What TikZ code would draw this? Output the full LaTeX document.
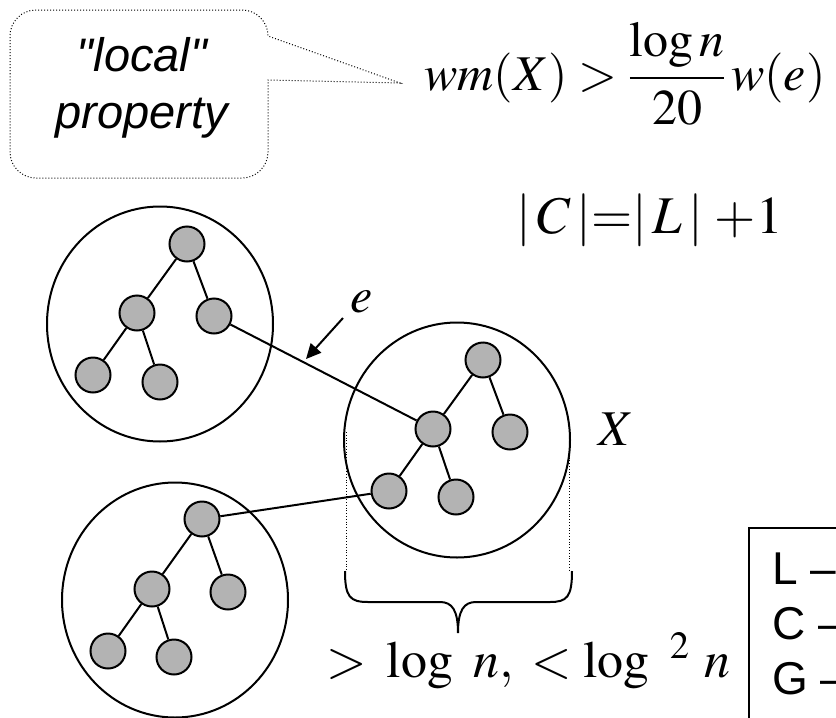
\documentclass[tikz,border=0pt]{standalone}
\usepackage{mathptmx}
\usepackage[no-math]{fontspec}
\newfontfamily\arial{Liberation Sans}
\usetikzlibrary{arrows.meta,shapes.geometric}
\definecolor{vfill}{HTML}{B3B3B3}
\tikzset{cluster/.style={ellipse,draw,line width=2pt,minimum width=226pt,minimum height=235pt,inner sep=0pt}, vtx/.style={circle,draw,fill=vfill,line width=2pt,minimum size=35pt,inner sep=0pt}, tedge/.style={line width=2pt}, guide/.style={dotted,line width=0.8pt}, callout/.style={dotted,line width=1pt}, eqn/.style={anchor=base west,inner sep=0pt,font=\fontsize{52}{60}\selectfont}, lbl/.style={anchor=base west,inner sep=0pt,font=\fontsize{50}{60}\selectfont}, calltext/.style={align=center,inner sep=0pt,font=\arial\itshape\fontsize{47}{57}\selectfont}, keytext/.style={align=left,inner sep=0pt,font=\arial\fontsize{46}{55}\selectfont}, pointer/.style={-{Triangle[length=15pt,width=14pt]},line width=2pt}}
\begin{document}
\begin{tikzpicture}[x=1pt,y=-1pt]
\path[use as bounding box,clip](0,0) rectangle (836,718);
\draw[callout](10,100)[rounded corners=26pt]--(10,10)--(268,10)[sharp corners]--(268,36)--(400,83)--(268,80)[rounded corners=26pt]--(268,178)--(10,178)--cycle;
\node[calltext,anchor=base](quote) at (142,128){"local"\\property};
\node[eqn,font=\fontsize{50}{60}\selectfont](fwm) at (424,90){$\displaystyle wm(X)>\frac{\log n}{20}\,w(e)$};
\node[eqn,font=\fontsize{53}{60}\selectfont](fcl) at (516,233){$|\,C\,|{=}|\,L\,|\;{+}1$};
\node[cluster](ca) at (160,324){};
\node[cluster](cx) at (457,440){};
\node[cluster](cb) at (175,600){};
\node[vtx](a1) at (187,244){};\node[vtx](a2) at (137,313){};\node[vtx](a3) at (214,316){};\node[vtx](a4) at (93,375){};\node[vtx](a5) at (160,382){};
\node[vtx](x1) at (483,360){};\node[vtx](x2) at (433,429){};\node[vtx](x3) at (510,432){};\node[vtx](x4) at (389,491){};\node[vtx](x5) at (456,497){};
\node[vtx](b1) at (202,519){};\node[vtx](b2) at (152,589){};\node[vtx](b3) at (228,592){};\node[vtx](b4) at (108,651){};\node[vtx](b5) at (174,657){};
\foreach \t in {a,x,b}{\draw[tedge](\t1)--(\t2) (\t1)--(\t3) (\t2)--(\t4) (\t2)--(\t5);}
\draw[tedge](a3)--(x2);\draw[tedge](b1)--(x4);
\coordinate(etail) at (343,318);\coordinate(etip) at (306,359);
\draw[pointer](etail)--(etip);
\node[lbl](le) at (350,312){$e$};
\node[lbl](lx) at (598,445){$X$};
\coordinate(gl) at (346,432);\coordinate(gr) at (569,452);\coordinate(bl) at (346,571);\coordinate(br) at (569,571);
\draw[guide](gl)--(bl);\draw[guide](gr)--(br);
\draw[line width=2pt](345,571) .. controls (345,597) and (350,602) .. (368,602) -- (440,602) .. controls (452,602) and (458,610) .. (458,633) .. controls (458,610) and (464,602) .. (476,602) -- (550,602) .. controls (567,602) and (572,597) .. (572,571);
\node[eqn](fsize) at (326,677){$>\mkern3mu\log\mkern5mu n,\mkern4mu<\log\mkern5mu{}^{2}\mkern5mu n$};
\draw[line width=2pt](749,528) rectangle (880,760);
\node[keytext,anchor=base west](key) at (772,694){L –\\C –\\G –};
\end{tikzpicture}
\end{document}
